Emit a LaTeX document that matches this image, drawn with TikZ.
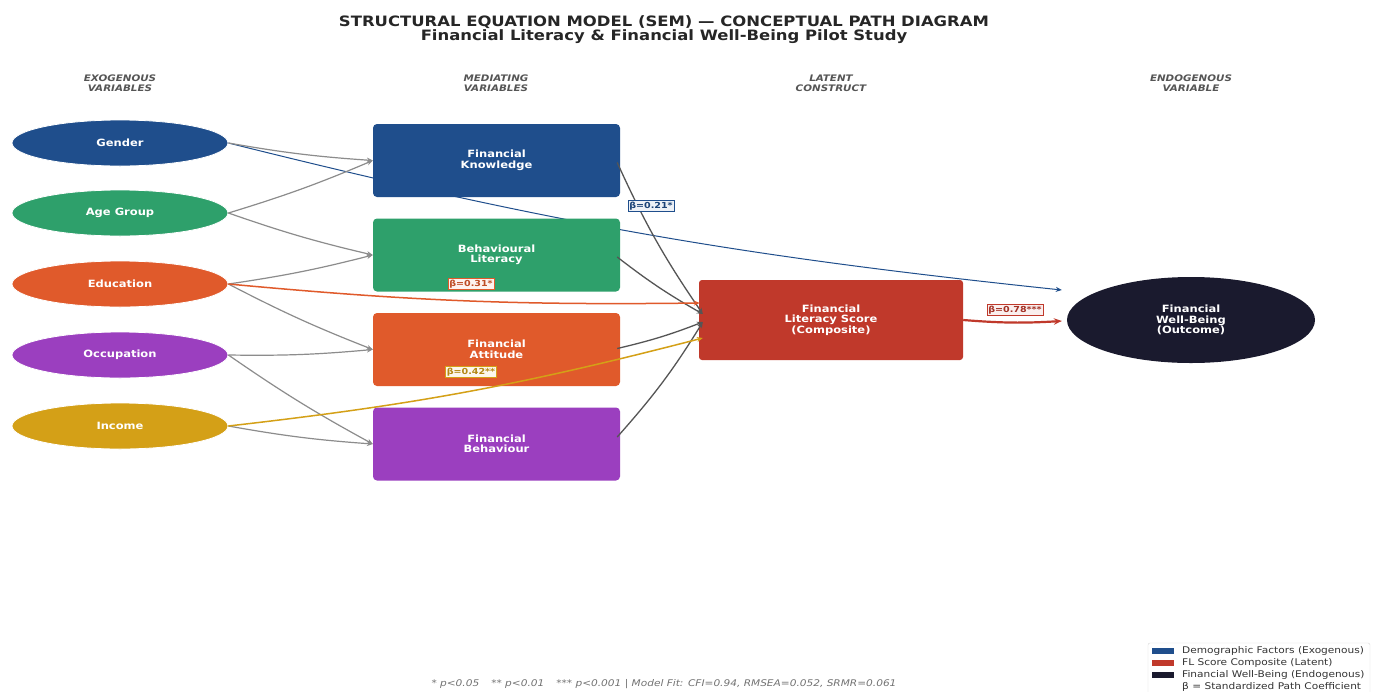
\documentclass[tikz,border=0pt]{standalone}
\usepackage{fontspec}
\setmainfont{DejaVu Sans}[FakeStretch=1.15]
\usetikzlibrary{arrows.meta,calc,shapes.geometric}
\definecolor{cBlue}{HTML}{1F4E8C}
\definecolor{cGreen}{HTML}{2EA06B}
\definecolor{cOrange}{HTML}{E05A2B}
\definecolor{cPurple}{HTML}{9B3FBF}
\definecolor{cGold}{HTML}{D4A017}
\definecolor{cRed}{HTML}{C0392B}
\definecolor{cDark}{HTML}{1A1A2E}
\definecolor{cHdr}{HTML}{555555}
\definecolor{cLine}{HTML}{8C8C8C}
\definecolor{cLineD}{HTML}{555555}
\pgfdeclarelayer{bg}
\pgfdeclarelayer{paper}
\pgfsetlayers{paper,bg,main}
\begin{document}
\begin{tikzpicture}[x=1pt,y=-1pt,
  exo/.style={ellipse, draw=white, line width=0.8pt, minimum width=216pt, minimum height=46pt, inner sep=0pt, text=white, font=\bfseries\fontsize{10}{11}\selectfont},
  med/.style={rounded corners=4pt, minimum width=247pt, minimum height=73pt, inner sep=0pt, text=white, align=center, font=\bfseries\fontsize{10}{10.5}\selectfont},
  hdr/.style={align=center, text=cHdr, font=\bfseries\itshape\fontsize{9}{10}\selectfont},
  ttl/.style={text=black!85, font=\bfseries\fontsize{14.3}{15}\selectfont},
  exoarr/.style={draw=cLine, line width=1.2pt, -{Stealth[length=6pt,width=5pt]}},
  medarr/.style={draw=cLineD, line width=1.3pt, -{Stealth[length=6pt,width=5pt]}},
  beta/.style={draw=#1, fill=#1!8!white, text=#1!85!black, line width=0.7pt, inner sep=1.3pt, font=\bfseries\fontsize{8.3}{9}\selectfont},
  legpatch/.style={minimum width=22pt, minimum height=6pt, inner sep=0pt},
  legtxt/.style={anchor=west, inner sep=0pt, text=black!80, font=\fontsize{9.2}{10}\selectfont}
]
\useasboundingbox (0,0) rectangle (1381,691);
\begin{pgfonlayer}{paper}
\fill[white] (0,0) rectangle (1381,691);
\end{pgfonlayer}

% titles
\node[ttl] (t1) at (664,22) {STRUCTURAL EQUATION MODEL (SEM) — CONCEPTUAL PATH DIAGRAM};
\node[ttl] (t2) at (664,37) {Financial Literacy \& Financial Well-Being Pilot Study};

% column headers
\node[hdr] (h1) at (120,83) {EXOGENOUS\\VARIABLES};
\node[hdr] (h2) at (496,83) {MEDIATING\\VARIABLES};
\node[hdr] (h3) at (831,83) {LATENT\\CONSTRUCT};
\node[hdr] (h4) at (1191,83) {ENDOGENOUS\\VARIABLE};

% exogenous
\node[exo, fill=cBlue] (gen) at (120,143) {Gender};
\node[exo, fill=cGreen] (age) at (120,213) {Age Group};
\node[exo, fill=cOrange] (edu) at (120,284) {Education};
\node[exo, fill=cPurple] (occ) at (120,355) {Occupation};
\node[exo, fill=cGold] (inc) at (120,426) {Income};

% mediating
\node[med, fill=cBlue] (fk) at (496.5,160.5) {Financial\\Knowledge};
\node[med, fill=cGreen] (bl) at (496.5,255) {Behavioural\\Literacy};
\node[med, fill=cOrange] (fa) at (496.5,349.5) {Financial\\Attitude};
\node[med, fill=cPurple] (fb) at (496.5,444) {Financial\\Behaviour};

% latent
\node[rounded corners=3pt, fill=cRed, minimum width=264pt, minimum height=80pt, inner sep=0pt, text=white, align=center, font=\bfseries\fontsize{10}{10.5}\selectfont] (lat) at (831,320) {Financial\\Literacy Score\\(Composite)};

% outcome
\node[ellipse, fill=cDark, minimum width=248pt, minimum height=86pt, inner sep=0pt, text=white, align=center, font=\bfseries\fontsize{10}{10.5}\selectfont] (out) at (1191,320) {Financial\\Well-Being\\(Outcome)};

% arrow end points
\coordinate (inEdu) at ($(lat.west)+(1,-17)$);
\coordinate (inA) at ($(lat.west)+(4,-6)$);
\coordinate (inB) at ($(lat.west)+(4,2)$);
\coordinate (inInc) at ($(lat.west)+(4,18)$);
\coordinate (gEnd) at ($(out.west)+(-5,-30)$);
\coordinate (oEnd) at ($(out.west)+(-5,1)$);

% direct gender path (behind boxes)
\begin{pgfonlayer}{bg}
\draw[draw=cBlue, line width=1pt, -{Stealth[length=6pt,width=5pt]}] (gen.east) to[bend right=4] (gEnd);
\end{pgfonlayer}

% exogenous -> mediating
\draw[exoarr] (gen.east) to[bend right=3] (fk.west);
\draw[exoarr] (age.east) to[bend right=3] (fk.west);
\draw[exoarr] (age.east) to[bend right=3] (bl.west);
\draw[exoarr] (edu.east) to[bend right=3] (bl.west);
\draw[exoarr] (edu.east) to[bend right=3] (fa.west);
\draw[exoarr] (occ.east) to[bend right=3] (fa.west);
\draw[exoarr] (occ.east) to[bend right=3] (fb.west);
\draw[exoarr] (inc.east) to[bend right=3] (fb.west);

% mediating -> latent
\draw[medarr] ($(fk.east)+(-3,2)$) to[bend right=5] (inA);
\draw[medarr] ($(bl.east)+(-3,2)$) to[bend right=4] (inA);
\draw[medarr] ($(fa.east)+(-3,-1)$) to[bend right=4] (inB);
\draw[medarr] ($(fb.east)+(-3,-7)$) to[bend right=5] (inB);

% direct paths
\draw[draw=cOrange, line width=1.5pt, -{Stealth[length=6pt,width=5pt]}] (edu.east) to[bend right=3] (inEdu);
\draw[draw=cGold, line width=1.5pt, -{Stealth[length=6pt,width=5pt]}] (inc.east) to[bend right=4] (inInc);
\draw[draw=cRed, line width=2.2pt, -{Stealth[length=8pt,width=6.5pt]}] (lat.east) to[bend right=4] (oEnd);

% coefficient labels
\node[beta=cBlue] (b1) at (651,206) {β=0.21*};
\node[beta=cOrange] (b2) at (471,284) {β=0.31*};
\node[beta=cGold] (b3) at (471,372) {β=0.42**};
\node[beta=cRed] (b4) at (1015,310) {β=0.78***};

% legend
\node[draw=black!15, fill=white, rounded corners=2pt, minimum width=222pt, minimum height=54pt, inner sep=0pt] (leg) at (1259,670) {};
\node[legpatch, fill=cBlue] (p1) at (1163,651) {};
\node[legpatch, fill=cRed] (p2) at (1163,663) {};
\node[legpatch, fill=cDark] (p3) at (1163,675) {};
\node[legtxt] (l1) at (1182,651) {Demographic Factors (Exogenous)};
\node[legtxt] (l2) at (1182,663) {FL Score Composite (Latent)};
\node[legtxt] (l3) at (1182,675) {Financial Well-Being (Endogenous)};
\node[legtxt] (l4) at (1182,687) {β = Standardized Path Coefficient};

% footnote
\node[text=black!55, font=\itshape\fontsize{9.2}{10}\selectfont] (fn) at (664,684) {* p<0.05\hspace{1.3em}** p<0.01\hspace{1.3em}*** p<0.001 | Model Fit: CFI=0.94, RMSEA=0.052, SRMR=0.061};
\end{tikzpicture}
\end{document}
